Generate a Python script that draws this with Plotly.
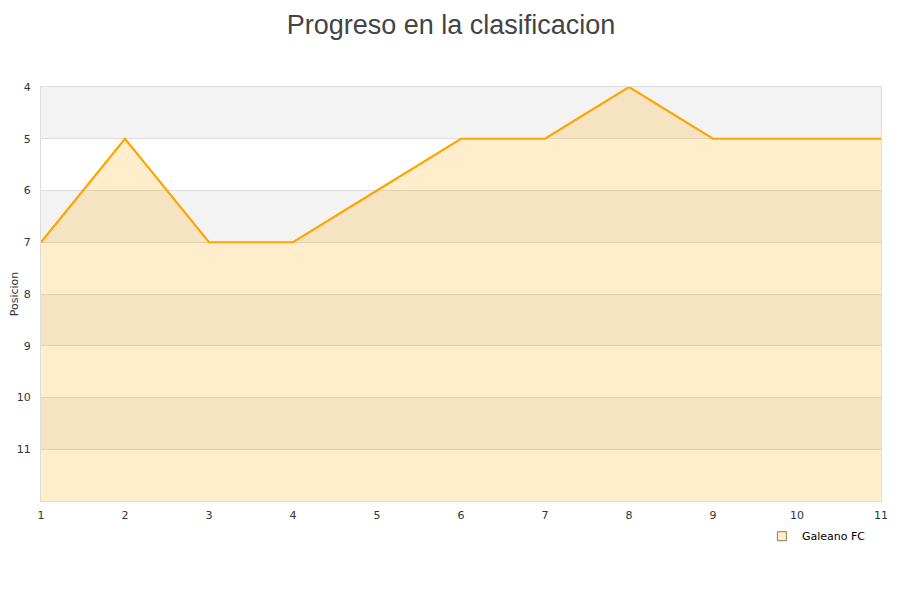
import plotly.graph_objects as go

jornadas = [1, 2, 3, 4, 5, 6, 7, 8, 9, 10, 11]
posiciones = [7, 5, 7, 7, 6, 5, 5, 4, 5, 5, 5]
equipo = "Galeano FC"
y_ticks = [4, 5, 6, 7, 8, 9, 10, 11]
y_min, y_max = 4, 12

fig = go.Figure()

# baseline for fill (bottom of chart)
fig.add_trace(go.Scatter(x=jornadas, y=[y_max] * len(jornadas), mode="lines",
                         line=dict(width=0, color="rgba(0,0,0,0)"),
                         showlegend=False, hoverinfo="skip"))
fig.add_trace(go.Scatter(x=jornadas, y=posiciones, mode="lines",
                         line=dict(color="#ffa500", width=2.2),
                         fill="tonexty", fillcolor="rgba(255,165,0,0.2)",
                         showlegend=False, name=equipo))
# legend entry
fig.add_trace(go.Scatter(x=[None], y=[None], mode="markers", name=equipo,
                         marker=dict(symbol="square", size=9, color="#ffedcc",
                                     line=dict(color="#8a7a5a", width=1))))

shapes = []
for v in range(y_min, y_max, 2):
    shapes.append(dict(type="rect", xref="paper", yref="y", x0=0, x1=1,
                       y0=v, y1=v + 1, fillcolor="#f3f3f3", line=dict(width=0),
                       layer="below"))

fig.update_layout(
    width=900, height=600,
    margin=dict(l=33, r=27, t=79, b=107, autoexpand=False),
    paper_bgcolor="white", plot_bgcolor="white",
    title=dict(text="Progreso en la clasificacion", x=443 / 900, xanchor="center",
               y=0.988, yanchor="top",
               font=dict(family="Liberation Sans, Arial", size=27, color="#444444")),
    shapes=shapes,
    font=dict(family="DejaVu Sans", size=11, color="#333333"),
    xaxis=dict(range=[1, 11], tickvals=jornadas, showgrid=False, zeroline=False,
               showline=True, linecolor="#dddddd", linewidth=1, ticks="",
               mirror=True, automargin=False, ticklabelstandoff=4,
               tickfont=dict(size=11, color="#333333")),
    yaxis=dict(range=[y_max, y_min], tickvals=y_ticks, showgrid=True,
               gridcolor="#dddddd", zeroline=False, showline=True,
               linecolor="#dddddd", mirror=True, ticks="", automargin=False,
               ticklabelstandoff=7,
               title=dict(text="Posicion", font=dict(size=11, color="#333333"), standoff=4),
               tickfont=dict(size=11, color="#333333")),
    legend=dict(x=0.988, xanchor="right", y=-0.05, yanchor="top", itemwidth=30,
                bgcolor="rgba(255,255,255,0)", font=dict(size=11, color="#000000")),
    showlegend=True,
)

fig.write_html("out.html")
